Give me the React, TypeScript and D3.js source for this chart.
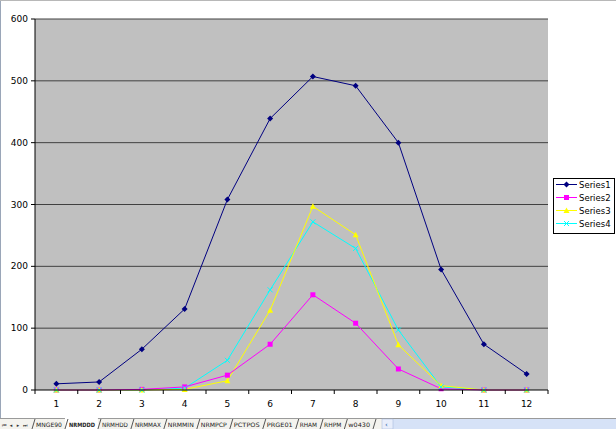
import * as d3 from "d3";

const width = 616;
const height = 429;
const plotLeft = 35;
const plotRight = 548;
const plotTop = 19;
const plotBottom = 390;

const categories = ["1", "2", "3", "4", "5", "6", "7", "8", "9", "10", "11", "12"];
const series1 = [10, 13, 66, 131, 308, 439, 507, 492, 400, 195, 74, 26];
const series2 = [0, 0, 1, 5, 24, 74, 154, 108, 34, 2, 0, 0];
const series3 = [0, 0, 0, 1, 15, 129, 297, 251, 73, 7, 0, 0];
const series4 = [0, 0, 0, 3, 48, 162, 272, 229, 97, 5, 0, 0];
const yTicks = [0, 100, 200, 300, 400, 500, 600];
const sheetTabs = ["MNGE90", "NRMDDD", "NRMHDD", "NRMMAX", "NRMMIN", "NRMPCP", "PCTPOS", "PRGE01", "RHAM", "RHPM", "w0430"];
const activeTab = "NRMDDD";

const seriesList = [
  { name: "Series1", values: series1, color: "#000080", marker: "diamond" },
  { name: "Series2", values: series2, color: "#FF00FF", marker: "square" },
  { name: "Series3", values: series3, color: "#FFFF00", marker: "triangle" },
  { name: "Series4", values: series4, color: "#00FFFF", marker: "cross" },
];

const font = "Tahoma, 'DejaVu Sans', Arial, sans-serif";

const Marker = ({ type, x, y, color }: { type: string; x: number; y: number; color: string }) => {
  if (type === "diamond") {
    return <path d={`M${x},${y - 3}L${x + 3},${y}L${x},${y + 3}L${x - 3},${y}Z`} fill={color} />;
  }
  if (type === "square") {
    return <rect x={x - 2.5} y={y - 2.5} width={5} height={5} fill={color} />;
  }
  if (type === "triangle") {
    return <path d={`M${x},${y - 3}L${x + 3},${y + 2.5}L${x - 3},${y + 2.5}Z`} fill={color} />;
  }
  return (
    <path d={`M${x - 2.5},${y - 2.5}L${x + 2.5},${y + 2.5}M${x + 2.5},${y - 2.5}L${x - 2.5},${y + 2.5}`} stroke={color} strokeWidth={1} />
  );
};

const App = () => {
  const x = d3.scaleBand().domain(categories).range([plotLeft, plotRight]);
  const y = d3.scaleLinear().domain([0, 600]).range([plotBottom, plotTop]);
  const cx = (c: string) => (x(c) as number) + x.bandwidth() / 2;

  const line = d3
    .line<number>()
    .x((_, i) => cx(categories[i]))
    .y((d) => y(d));

  // tab widths scaled from label length to fill the strip 32..373
  const rawWidths = sheetTabs.map((t) => t.length * 4.3 + 7);
  const scaleTabs = (373 - 32) / d3.sum(rawWidths);
  const tabWidths = rawWidths.map((w) => w * scaleTabs);
  let tabX = 32;

  return (
    <div style={{ position: "fixed", left: 0, top: 0 }}>
      <svg width={width} height={height} style={{ display: "block" }} fontFamily={font}>
        <rect width={width} height={height} fill="#ffffff" />
        <line x1={0.5} x2={0.5} y1={0} y2={418} stroke="#9aa6b8" />
        <line x1={0} x2={width} y1={0.5} y2={0.5} stroke="#b8b8b8" />

        <rect x={plotLeft} y={plotTop} width={plotRight - plotLeft} height={plotBottom - plotTop} fill="#C0C0C0" />
        {yTicks.slice(1).map((t) => (
          <line key={t} x1={plotLeft} x2={plotRight} y1={y(t)} y2={y(t)} stroke="#404040" strokeWidth={1} />
        ))}

        {/* y axis */}
        <line x1={plotLeft} x2={plotLeft} y1={plotTop} y2={plotBottom} stroke="#000" />
        {yTicks.map((t) => (
          <g key={t}>
            <line x1={plotLeft - 4} x2={plotLeft} y1={y(t)} y2={y(t)} stroke="#000" />
            <text x={plotLeft - 7} y={y(t) + 3} textAnchor="end" fontSize={9}>
              {t}
            </text>
          </g>
        ))}

        {seriesList
          .slice()
          .reverse()
          .map((s) => (
            <path key={s.name} d={line(s.values) as string} fill="none" stroke={s.color} strokeWidth={1} />
          ))}
        {seriesList.map((s) =>
          s.values.map((v, i) => (
            <Marker key={s.name + i} type={s.marker} x={cx(categories[i])} y={y(v)} color={s.color} />
          ))
        )}

        {/* x axis */}
        <line x1={plotLeft} x2={plotRight} y1={plotBottom} y2={plotBottom} stroke="#000" />
        {categories.map((c) => (
          <g key={c}>
            <line x1={x(c) as number} x2={x(c) as number} y1={plotBottom} y2={plotBottom + 4} stroke="#000" />
            <text x={cx(c)} y={plotBottom + 17} textAnchor="middle" fontSize={9}>
              {c}
            </text>
          </g>
        ))}
        <line x1={plotRight} x2={plotRight} y1={plotBottom} y2={plotBottom + 4} stroke="#000" />

        {/* legend */}
        <rect x={553.5} y={178.5} width={61} height={55} fill="#ffffff" stroke="#000" />
        {seriesList.map((s, i) => {
          const ly = 184.5 + i * 13;
          return (
            <g key={s.name}>
              <line x1={556} x2={577} y1={ly} y2={ly} stroke={s.color} />
              <Marker type={s.marker} x={566.5} y={ly} color={s.color} />
              <text x={579} y={ly + 3} fontSize={8.5}>
                {s.name}
              </text>
            </g>
          );
        })}

        {/* sheet tab bar */}
        <rect x={0} y={418} width={width} height={11} fill="#f4f3ee" />
        <line x1={0} x2={width} y1={418.5} y2={418.5} stroke="#9a9a9a" />
        {["⏮", "◂", "▸", "⏭"].map((g, i) => (
          <text key={i} x={4 + i * 7} y={427} fontSize={5} textAnchor="middle" fill="#333">
            {g}
          </text>
        ))}
        {sheetTabs.map((t, i) => {
          const w = tabWidths[i];
          const x0 = tabX;
          tabX += w;
          const active = t === activeTab;
          return (
            <g key={t}>
              {active && <rect x={x0} y={418} width={w} height={11} fill="#ffffff" />}
              <line x1={x0} x2={x0 + 3} y1={429} y2={419} stroke="#555" />
              <text
                x={x0 + 4}
                y={427}
                fontSize={6}
                fontWeight={active ? "bold" : "normal"}
                fill="#222"
                textLength={w - 7}
                lengthAdjust="spacingAndGlyphs"
              >
                {t}
              </text>
            </g>
          );
        })}
        <line x1={tabX} x2={tabX + 3} y1={429} y2={419} stroke="#555" />
        <rect x={382} y={419} width={width - 382} height={10} fill="#d6e2f7" />
        <rect x={382} y={419} width={11} height={10} fill="#e8eefb" stroke="#9fb3d8" strokeWidth={0.5} />
        <text x={385} y={427} fontSize={7} fill="#2050a0">
          ‹
        </text>
      </svg>
    </div>
  );
};

export default App;
